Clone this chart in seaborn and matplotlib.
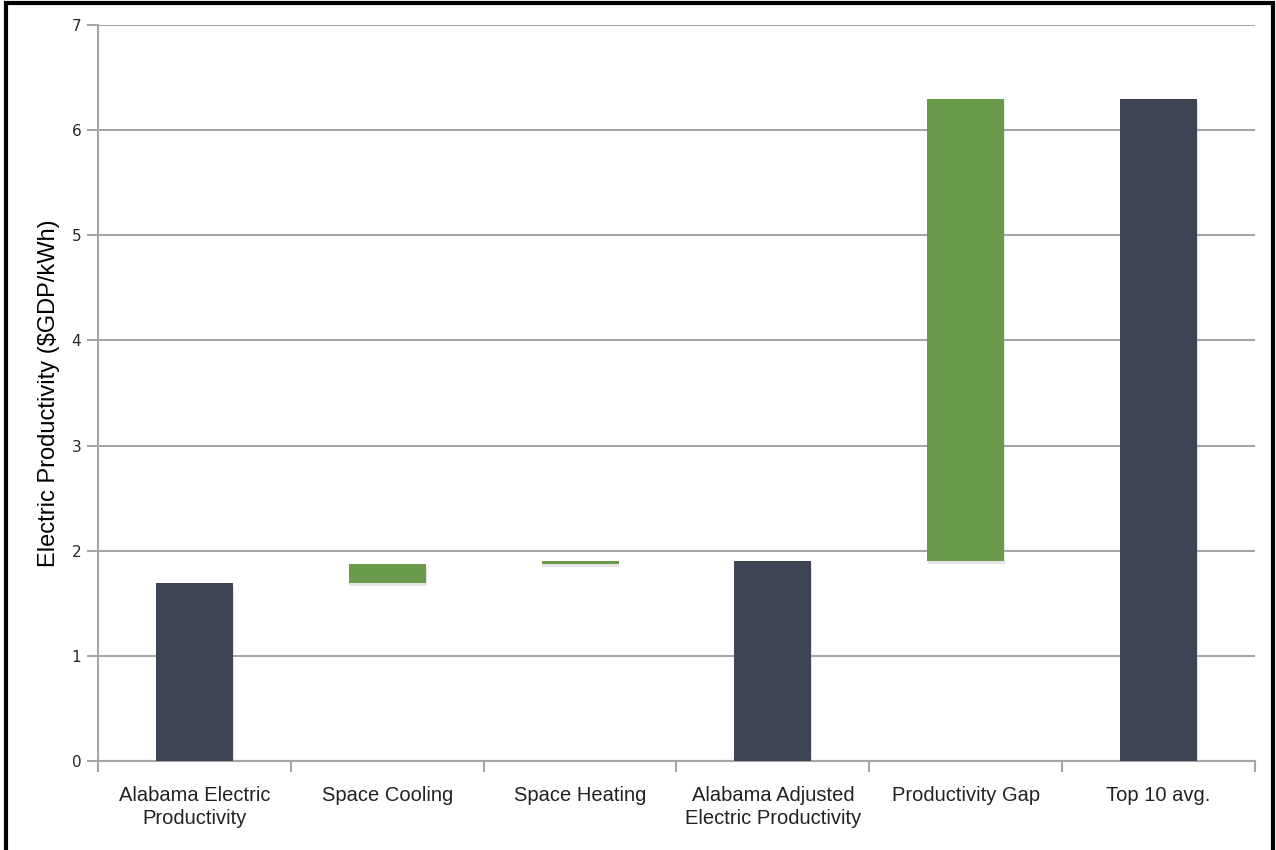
import numpy as np
import pandas as pd
import matplotlib
matplotlib.use("Agg")
import matplotlib.pyplot as plt
import matplotlib.patheffects as pe
from matplotlib.patches import Rectangle
import seaborn as sns

# waterfall data
categories = ["Alabama Electric\nProductivity", "Space Cooling", "Space Heating",
              "Alabama Adjusted\nElectric Productivity", "Productivity Gap", "Top 10 avg."]
bar_bottom = [0.0, 1.69, 1.87, 0.0, 1.90, 0.0]
bar_top = [1.69, 1.87, 1.90, 1.90, 6.30, 6.30]
bar_kind = ["total", "step", "step", "total", "step", "total"]

dark = "#3D4454"
green = "#6A9A4A"
grid_grey = "#A6A6A6"

sns.set_style("white")
plt.rcParams["font.family"] = ["Liberation Sans", "DejaVu Sans"]

df = pd.DataFrame({"category": categories,
                   "bottom": bar_bottom,
                   "top": bar_top,
                   "kind": bar_kind})
df["height"] = df["top"] - df["bottom"]

fig = plt.figure(figsize=(12.76, 8.5), dpi=100)
ax = fig.add_axes([98 / 1276, 89 / 850, (1255 - 98) / 1276, (761 - 25) / 850])

sns.barplot(data=df, x="category", y="height", bottom=df["bottom"].values,
            color=dark, width=0.4, ax=ax, zorder=3)
for patch, kind in zip(ax.patches, df["kind"]):
    patch.set_facecolor(dark if kind == "total" else green)
    patch.set_edgecolor("none")
    patch.set_path_effects([pe.SimplePatchShadow(offset=(0.5, -2), shadow_rgbFace="#999999",
                                                 alpha=0.25), pe.Normal()])

ax.set_ylim(0, 7)
ax.set_xlim(-0.5, 5.5)
ax.set_yticks(range(0, 8))
ax.yaxis.grid(True, color=grid_grey, linewidth=1.5, zorder=0)
ax.set_axisbelow(True)

for side in ["top", "right"]:
    ax.spines[side].set_visible(False)
for side in ["left", "bottom"]:
    ax.spines[side].set_color(grid_grey)
    ax.spines[side].set_linewidth(1.5)

# ticks between categories on x, short ticks on y
ax.set_xticks(np.arange(-0.5, 6, 1), minor=True)
ax.tick_params(axis="x", which="major", length=0, pad=18, labelsize=14.5, labelcolor="#222222")
ax.tick_params(axis="x", which="minor", length=8, width=1.5, color=grid_grey, direction="out", bottom=True)
ax.tick_params(axis="y", length=8, width=1.5, color=grid_grey, direction="out", left=True,
               pad=4, labelsize=11)
for lab in ax.get_yticklabels():
    lab.set_family(["DejaVu Sans"])
for lab in ax.get_xticklabels():
    lab.set_linespacing(1.25)

ax.set_xlabel("")
ax.set_ylabel("Electric Productivity ($GDP/kWh)", fontsize=17, labelpad=8, color="black")

# black frame around the figure
fig.patches.append(Rectangle((6 / 1276, -0.02), 1267 / 1276, 0.02 + 847 / 850,
                             transform=fig.transFigure, fill=False,
                             edgecolor="black", linewidth=3))

fig.savefig("out.png", dpi=100)
